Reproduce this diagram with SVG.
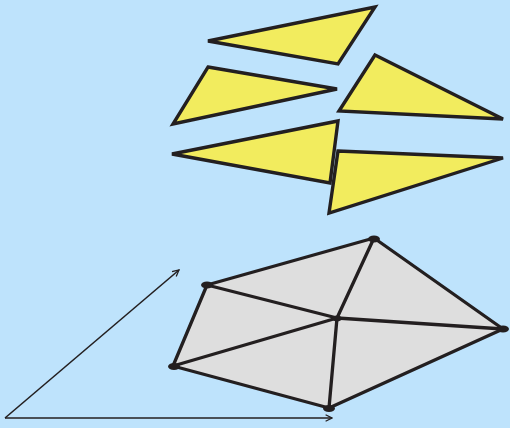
<svg xmlns="http://www.w3.org/2000/svg" width="510" height="428" viewBox="0 0 510 428">
<defs>
<style>
.tri{fill:#f2ec5e;stroke:#231f20;stroke-width:3.4;stroke-linejoin:miter}
.face{fill:#dedede;stroke:none}
.edge{stroke:#231f20;stroke-width:3.3;stroke-linecap:round;fill:none}
.vtx{fill:#231f20}
.axis{stroke:#231f20;stroke-width:1.6;fill:none}
</style>
<marker id="arr" viewBox="0 0 10 10" refX="9" refY="5" markerWidth="8" markerHeight="8" markerUnits="userSpaceOnUse" orient="auto">
<path d="M1,1 L9,5 L1,9" fill="none" stroke="#231f20" stroke-width="1.6"/>
</marker>
</defs>
<rect width="510" height="428" fill="#bee3fc"/>
<g id="triangles">
<polygon id="t1" class="tri" points="208,41 375,7 338,64"/>
<polygon id="t2" class="tri" points="208,67 337,89 173,124"/>
<polygon id="t3" class="tri" points="375,55 503,119 339,111"/>
<polygon id="t4" class="tri" points="172,154 338,121 330,183"/>
<polygon id="t5" class="tri" points="338,151 503,158 329,213"/>
</g>
<g id="mesh">
<polygon class="face" points="374,238 503,329 329,408 173,366 207,285"/>
<g id="connectors">
<line class="edge" x1="374" y1="238" x2="207" y2="285"/>
<line class="edge" x1="374" y1="238" x2="337" y2="318"/>
<line class="edge" x1="374" y1="238" x2="503" y2="329"/>
<line class="edge" x1="207" y1="285" x2="337" y2="318"/>
<line class="edge" x1="207" y1="285" x2="173" y2="366"/>
<line class="edge" x1="337" y1="318" x2="503" y2="329"/>
<line class="edge" x1="337" y1="318" x2="173" y2="366"/>
<line class="edge" x1="337" y1="318" x2="329" y2="408"/>
<line class="edge" x1="173" y1="366" x2="329" y2="408"/>
<line class="edge" x1="329" y1="408" x2="503" y2="329"/>
</g>
<ellipse id="vA" class="vtx" cx="374" cy="239" rx="6" ry="3.5"/>
<ellipse id="vB" class="vtx" cx="207" cy="285" rx="6" ry="3.5"/>
<ellipse id="vC" class="vtx" cx="337" cy="318.5" rx="5" ry="3"/>
<ellipse id="vD" class="vtx" cx="503" cy="329" rx="6" ry="3.5"/>
<ellipse id="vE" class="vtx" cx="174" cy="366.5" rx="6" ry="3.5"/>
<ellipse id="vF" class="vtx" cx="329" cy="408.5" rx="6" ry="3.5"/>
</g>
<g id="axes">
<line class="axis" x1="5" y1="418" x2="179" y2="270" marker-end="url(#arr)"/>
<line class="axis" x1="5" y1="418" x2="332" y2="418" stroke-width="2" marker-end="url(#arr)"/>
</g>
</svg>
